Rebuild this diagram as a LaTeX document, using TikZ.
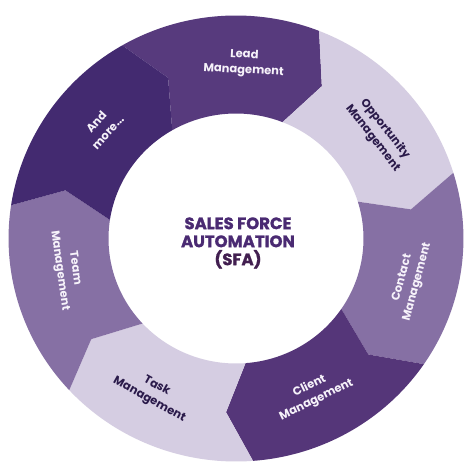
\documentclass[tikz,border=0pt]{standalone}
\usepackage{fontspec}
\setmainfont{Poppins}
\newfontfamily\labfont{Poppins}
\newfontfamily\cenfont[BoldFeatures={FakeBold=1.2}]{Poppins}
\definecolor{cLead}{HTML}{573A7D}
\definecolor{cLight}{HTML}{D5CDE2}
\definecolor{cMid}{HTML}{8670A4}
\definecolor{cClient}{HTML}{553679}
\definecolor{cDark}{HTML}{432A70}
\definecolor{tDark}{HTML}{2A1A4A}
\definecolor{tWhite}{HTML}{F6F2FA}
\definecolor{tCenter}{HTML}{4A2A72}
\definecolor{tSFA}{HTML}{421F50}
\tikzset{
  lab/.style={align=center, font=\labfont\bfseries\fontsize{11.5}{15.5}\selectfont, inner sep=0pt},
  labw/.style={lab, text=tWhite},
  labd/.style={lab, text=tDark},
}
\newcommand{\seg}[3]{%
  \fill[#3] (#1:223) arc[start angle=#1, end angle=#2, radius=223]
    -- ({#2-7.5}:174) -- (#2:125)
    arc[start angle=#2, end angle=#1, radius=125]
    -- ({#1-7.5}:174) -- cycle;}
\begin{document}
\begin{tikzpicture}[x=1pt,y=1pt]
\useasboundingbox[fill=white] (-236,-235.5) rectangle (238,238.5);
\begin{scope}[xscale=1.02]
\seg{120}{68.571}{cLead}
\seg{68.571}{17.143}{cLight}
\seg{17.143}{-34.286}{cMid}
\seg{-34.286}{-85.714}{cClient}
\seg{-85.714}{-137.143}{cLight}
\seg{-137.143}{-188.571}{cMid}
\seg{171.429}{120}{cDark}
\end{scope}
\node[labw, rotate=-3] (lead) at (8,175.5) {Lead\\Management};
\node[labd, rotate=-52] (opp) at (143,105) {Opportunity\\Management};
\node[labw, rotate=75] (contact) at (174,-41.5) {Contact\\Management};
\node[labw, rotate=26] (client) at (77,-154.5) {Client\\Management};
\node[labd, rotate=-29] (task) at (-83,-154.5) {Task\\Management};
\node[labw, rotate=-82] (team) at (-169,-31) {Team\\Management};
\node[labw, rotate=48] (more) at (-134,111.5) {And\\more...};
\node[align=center, inner sep=0pt, font=\cenfont\bfseries\fontsize{16.5}{18}\selectfont] (center) at (2,-4.5)
  {\textcolor{tCenter}{SALES FORCE}\\\textcolor{tCenter}{AUTOMATION}\\\textcolor{tSFA}{(SFA)}};
\end{tikzpicture}
\end{document}
